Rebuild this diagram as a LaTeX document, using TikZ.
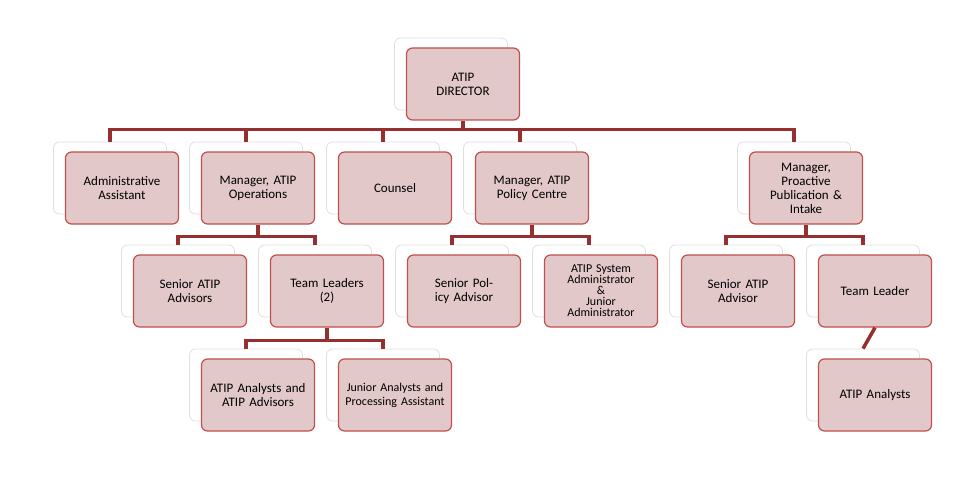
\documentclass[tikz,border=0pt]{standalone}
\usepackage{fontspec}
\setmainfont{Carlito}
\begin{document}
\begin{tikzpicture}[x=1pt,y=-1pt,
  bx/.style={draw=bordred,line width=1.2pt,fill=pinkf,rounded corners=6pt,minimum width=113pt,minimum height=72pt,text width=100pt,align=center,font=\fontsize{13}{14}\selectfont,inner sep=1pt},
  bk/.style={draw=gray!25,line width=0.8pt,fill=white,rounded corners=6pt,minimum width=113pt,minimum height=72pt},
  cn/.style={draw=connred,line width=3.5pt}]
\definecolor{bordred}{RGB}{192,80,77}
\definecolor{pinkf}{RGB}{226,200,200}
\definecolor{connred}{RGB}{150,48,48}
\useasboundingbox (0,0) rectangle (955,500);
% back boxes and front boxes
\newcommand{\mybox}[4]{%
  \node[bk] (#1b) at (#2-12,#3-10) {};
  \node[bx] (#1) at (#2,#3) {#4};}
% connectors first drawn after boxes? draw boxes then connectors under
\begin{scope}
\mybox{dir}{463}{84}{ATIP\\DIRECTOR}
\mybox{adm}{122}{188}{Administrative Assistant}
\mybox{ops}{258}{188}{Manager, ATIP Operations}
\mybox{cou}{395}{188}{Counsel}
\mybox{pol}{532}{188}{Manager, ATIP Policy Centre}
\mybox{pro}{806}{188}{Manager, Proactive Publication \&\\Intake}
\mybox{sa}{190}{291}{Senior ATIP Advisors}
\mybox{tl}{327}{291}{Team Leaders\\(2)}
\mybox{spa}{464}{291}{Senior Policy Advisor}
\node[bk] (sysb) at (589,281) {};
\node[bx,font=\fontsize{12}{11}\selectfont] (sys) at (601,291) {ATIP System Administrator\\\&\\Junior\\Administrator};
\mybox{sa2}{738}{291}{Senior ATIP Advisor}
\mybox{tl2}{875}{291}{Team Leader}
\mybox{aa}{258}{395}{ATIP Analysts and ATIP Advisors}
\node[bk] (jab) at (383,385) {};
\node[bx,font=\fontsize{12}{14}\selectfont] (ja) at (395,395) {Junior Analysts and Processing Assistant};
\mybox{an}{875}{395}{ATIP Analysts}
\end{scope}
% connectors
\draw[cn] (dir.south) -- ++(0,9) coordinate (t);
\draw[cn] (admb.north) |- (t) -| (prob.north);
\draw[cn] (opsb.north) -- (opsb.north|-t);
\draw[cn] (coub.north) -- (coub.north|-t);
\draw[cn] (polb.north) -- (polb.north|-t);
\draw[cn] (ops.south) -- ++(0,12) coordinate (o);
\draw[cn] (sab.north) |- (o) -| (tlb.north);
\draw[cn] (pol.south) -- ++(0,12) coordinate (p);
\draw[cn] (spab.north) |- (p) -| (sysb.north);
\draw[cn] (pro.south) -- ++(0,12) coordinate (q);
\draw[cn] (sa2b.north) |- (q) -| (tl2b.north);
\draw[cn] (tl.south) -- ++(0,13) coordinate (r);
\draw[cn] (aab.north) |- (r) -| (jab.north);
\draw[cn] (tl2.south) -- (anb.north);
\end{tikzpicture}
\end{document}
